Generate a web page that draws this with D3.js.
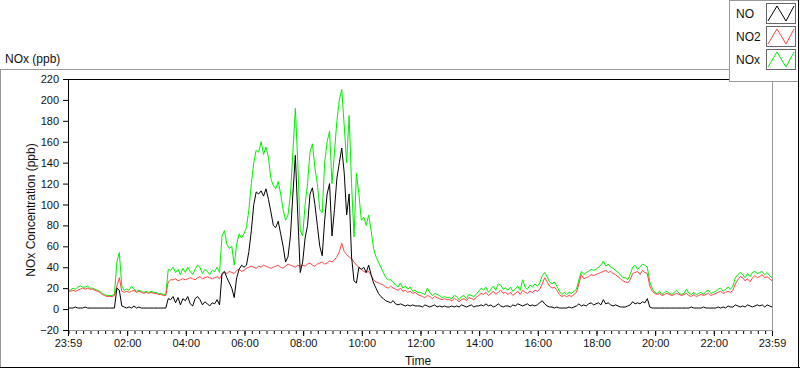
<!DOCTYPE html>
<html>
<head>
<meta charset="utf-8">
<title>NOx (ppb)</title>
<script src="https://cdn.jsdelivr.net/npm/d3@7"></script>
<style>
  body { margin: 0; background: #fff; }
  svg { display: block; font-family: "Liberation Sans", Arial, sans-serif; }
  .axis text { font-size: 11px; fill: #111; }
  .axis path { display: none; }
  .axis line { stroke: #000; }
  .line { fill: none; stroke-width: 1px; }
  .label { font-size: 12px; fill: #111; }
</style>
</head>
<body>
<div id="chart"></div>
<script>
// readings every 5 minutes, from 23:59 to 23:59 next day (one row per hour)
const stepMinutes = 5;

const noValues = [
  1,1,1,2,1,1,1,2,1,1,1,1,
  1,1,1,1,1,1,1,1,20,18,3,2,
  1,2,1,3,1,2,1,1,1,1,1,1,
  1,1,1,1,1,10,9,12,6,11,4,10,
  8,12,5,3,10,12,9,4,7,5,3,6,
  5,9,4,34,36,30,25,20,11,30,38,42,
  40,42,55,75,100,112,110,113,108,115,105,93,
  80,78,84,72,60,45,50,70,110,147,90,35,
  45,68,80,110,116,100,80,60,51,85,110,120,
  70,95,125,140,154,130,90,110,50,27,25,40,
  38,40,35,42,33,25,20,15,12,10,8,7,
  6,8,5,4,5,4,3,4,3,4,3,3,
  3,2,4,3,2,3,4,2,3,2,3,2,
  2,3,2,3,2,4,3,2,3,4,2,3,
  3,4,3,5,3,4,2,3,5,3,2,3,
  3,2,4,3,5,4,3,4,5,3,4,3,
  4,6,8,5,3,2,2,1,2,1,1,1,
  1,2,1,2,3,5,3,4,3,5,6,4,
  5,6,4,9,5,6,4,3,4,3,2,2,
  2,3,4,7,5,6,5,7,6,10,2,1,
  1,1,1,1,1,1,1,1,1,1,1,1,
  1,1,1,2,1,1,1,1,2,1,1,1,
  1,1,2,1,2,1,3,2,2,4,3,2,
  3,2,4,3,2,3,4,3,4,2,4,3,
  2
];

const no2Values = [
  17,17,18,17,18,19,20,19,20,19,19,18,
  17,16,14,13,12,12,12,13,22,30,17,16,
  17,16,17,18,16,17,16,15,16,15,16,15,
  15,14,14,13,13,26,28,28,29,27,28,29,
  28,29,30,29,28,30,31,29,30,31,30,29,
  30,31,29,33,35,34,36,35,34,37,38,36,
  37,39,40,41,40,39,41,40,42,41,40,39,
  40,41,42,40,39,41,43,42,41,40,42,41,
  42,41,43,44,42,41,43,44,45,43,44,46,
  45,47,50,55,63,55,52,50,48,45,42,40,
  38,36,35,36,32,28,26,25,24,23,21,20,
  22,20,19,18,20,17,18,16,17,15,16,14,
  13,12,11,13,12,10,12,11,10,9,10,9,
  9,8,10,9,7,9,10,8,11,10,9,11,
  13,15,14,16,13,15,17,14,16,18,15,16,
  14,16,13,15,17,14,18,16,15,17,16,18,
  17,19,24,30,26,22,20,21,18,14,12,13,
  12,13,12,14,16,24,33,29,30,31,33,32,
  33,34,35,36,37,35,36,34,33,31,29,27,
  26,25,28,34,35,36,33,37,35,34,22,17,
  15,14,15,13,14,15,14,13,14,15,14,13,
  14,15,13,12,14,12,13,14,13,14,15,13,
  14,15,16,17,15,16,17,16,18,24,28,31,
  30,27,29,26,30,32,30,31,33,30,31,29,
  27
];

const noxValues = [
  18,18,20,19,21,22,21,21,22,20,20,19,
  18,17,15,14,13,13,13,14,45,54,22,18,
  19,18,22,19,17,18,17,16,17,16,17,16,
  16,15,15,14,14,38,37,40,35,38,33,39,
  35,40,36,33,38,42,40,34,38,36,33,37,
  36,40,35,70,75,62,58,60,42,62,72,68,
  72,78,95,120,140,152,150,160,148,155,145,125,
  118,115,122,110,95,85,90,110,150,192,140,75,
  70,100,120,150,158,135,120,95,92,140,160,170,
  120,150,180,200,210,175,140,185,120,69,130,110,
  85,88,80,90,75,58,50,45,40,35,30,28,
  28,26,23,21,25,20,22,19,21,17,18,16,
  16,15,14,20,16,13,15,14,13,11,12,11,
  11,10,13,12,9,12,13,10,14,13,12,14,
  17,20,18,21,16,19,22,18,24,23,19,20,
  18,21,17,19,22,18,28,21,19,23,21,24,
  22,25,32,35,31,26,24,26,22,17,14,16,
  14,16,15,17,19,28,36,33,35,36,38,37,
  38,40,42,46,41,43,40,39,37,35,33,30,
  30,28,33,40,42,38,40,43,42,40,26,20,
  16,15,17,14,16,17,15,14,16,18,15,14,
  15,19,15,14,16,14,15,16,14,17,18,15,
  16,17,19,20,17,19,21,19,22,30,33,35,
  33,30,34,31,35,36,34,35,36,33,35,32,
  30
];

const yTicks = [-20, 0, 20, 40, 60, 80, 100, 120, 140, 160, 180, 200, 220];
const xTickHours = [2, 4, 6, 8, 10, 12, 14, 16, 18, 20, 22];
const seriesNames = ["NO", "NO2", "NOx"];
const seriesColors = ["#000000", "#ff4444", "#00ee00"];

const W = 800, H = 369;
const margin = { top: 79, right: 28, bottom: 39, left: 68 },
      width = W - margin.left - margin.right,
      height = H - margin.top - margin.bottom;

const start = new Date(2020, 0, 1, 23, 59);
const end = new Date(2020, 0, 2, 23, 59);
const times = noValues.map((d, i) => d3.timeMinute.offset(start, i * stepMinutes));

const x = d3.scaleTime().domain([start, end]).range([0, width]);
const y = d3.scaleLinear().domain([-20, 220]).range([height, 0]);

const svg = d3.select("#chart").append("svg")
    .attr("width", W)
    .attr("height", H);

// outer panel frame
svg.append("line").attr("x1", 0).attr("x2", 730).attr("y1", 69.5).attr("y2", 69.5).attr("stroke", "#999");
svg.append("line").attr("x1", 0.5).attr("x2", 0.5).attr("y1", 69).attr("y2", 368).attr("stroke", "#999");
svg.append("line").attr("x1", 0).attr("x2", 800).attr("y1", 367.5).attr("y2", 367.5).attr("stroke", "#000");
svg.append("line").attr("x1", 798.5).attr("x2", 798.5).attr("y1", 0).attr("y2", 368).attr("stroke", "#000");

svg.append("text").attr("class", "label")
    .attr("x", 5).attr("y", 63)
    .text("NOx (ppb)");

const g = svg.append("g")
    .attr("transform", `translate(${margin.left},${margin.top})`);

g.append("clipPath").attr("id", "clip")
  .append("rect").attr("width", width).attr("height", height);

// data lines: NOx under NO2 under NO
const series = [noValues, no2Values, noxValues];
[2, 1, 0].forEach(function(k) {
    const line = d3.line()
        .x((d, i) => x(times[i]))
        .y(d => y(d));
    g.append("path")
        .datum(series[k])
        .attr("class", "line")
        .attr("clip-path", "url(#clip)")
        .style("stroke", seriesColors[k])
        .attr("d", line);
});

// plot frame
g.append("line").attr("x1", 0).attr("x2", width + 1).attr("y1", 0.5).attr("y2", 0.5).attr("stroke", "#000");
g.append("line").attr("x1", 0.5).attr("x2", 0.5).attr("y1", 0).attr("y2", height + 1).attr("stroke", "#000");
g.append("line").attr("x1", width + 0.5).attr("x2", width + 0.5).attr("y1", 0).attr("y2", height + 1).attr("stroke", "#999");
g.append("line").attr("x1", 1).attr("x2", width + 1).attr("y1", height + 0.5).attr("y2", height + 0.5).attr("stroke", "#999");

// y axis
g.append("g").attr("class", "axis")
    .call(d3.axisLeft(y).tickValues(yTicks).tickSize(5).tickPadding(4));

// x axis: minor 15 min ticks + major labelled ticks
const majors = [start].concat(xTickHours.map(h => new Date(2020, 0, 2, h, 0)), [end]);
const minors = d3.timeMinute.every(15).range(d3.timeMinute.offset(start, 1), end);

g.append("g").attr("class", "axis")
    .attr("transform", `translate(0,${height + 1})`)
    .call(d3.axisBottom(x).tickValues(minors).tickSize(3).tickFormat(""));

g.append("g").attr("class", "axis")
    .attr("transform", `translate(0,${height + 1})`)
    .call(d3.axisBottom(x).tickValues(majors).tickSize(5).tickPadding(3)
        .tickFormat(d3.timeFormat("%H:%M")));

svg.append("text").attr("class", "label")
    .attr("x", 418).attr("y", 365)
    .attr("text-anchor", "middle")
    .text("Time");

svg.append("text").attr("class", "label")
    .attr("transform", "translate(35,210) rotate(-90)")
    .attr("text-anchor", "middle")
    .text("NOx Concentration (ppb)");

// legend
const legend = svg.append("g");
legend.append("rect")
    .attr("x", 729.5).attr("y", 0.5).attr("width", 69).attr("height", 81)
    .attr("fill", "#fff").attr("stroke", "#999");
legend.append("line").attr("x1", 798.5).attr("x2", 798.5).attr("y1", 0).attr("y2", 82).attr("stroke", "#000");

const rows = legend.selectAll(".legend")
    .data(seriesNames)
    .enter().append("g")
    .attr("class", "legend")
    .attr("transform", (d, i) => `translate(0,${i * 23})`);

rows.append("text").attr("class", "label")
    .attr("x", 736).attr("y", 18)
    .text(d => d);

rows.append("rect")
    .attr("x", 766.5).attr("y", 3.5).attr("width", 29).attr("height", 20)
    .attr("fill", "#fff").attr("stroke", "#666");

rows.append("path")
    .attr("fill", "none")
    .style("stroke", (d, i) => seriesColors[i])
    .attr("d", "M768,21L777,6L786,21L794,6");
</script>
</body>
</html>
